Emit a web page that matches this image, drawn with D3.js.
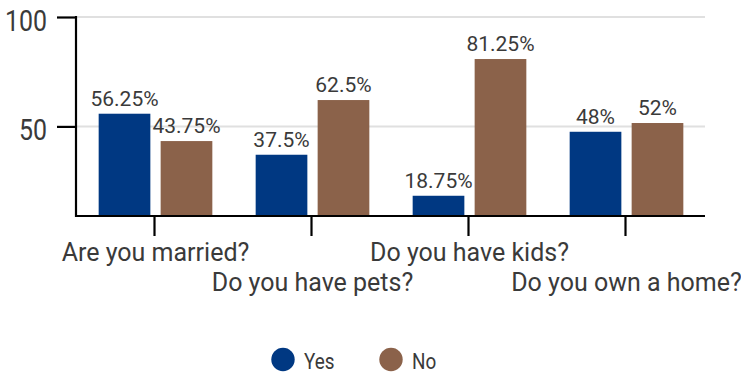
<!DOCTYPE html>
<html>
<head>
<meta charset="utf-8">
<script src="https://cdn.jsdelivr.net/npm/d3@7"></script>
<style>
  html, body { margin: 0; padding: 0; background: #fff; }
  svg { display: block; font-family: Roboto, "Noto Sans", sans-serif; }
</style>
</head>
<body>
<svg id="chart" width="741" height="375"></svg>
<script>
const categories = ["Are you married?", "Do you have pets?", "Do you have kids?", "Do you own a home?"];
const seriesNames = ["Yes", "No"];
const yesValues = [56.25, 37.5, 18.75, 48];
const noValues = [43.75, 62.5, 81.25, 52];
const yTickValues = [50, 100];
const seriesColors = ["#003882", "#8B624A"];

const svg = d3.select("#chart");
const plotLeft = 77, plotRight = 705, plotTop = 18, plotBottom = 216;

const data = categories.map((c, i) => ({ cat: c, values: [yesValues[i], noValues[i]] }));

const x0 = d3.scaleBand().domain(categories).range([plotLeft, plotRight]).paddingInner(0.276).paddingOuter(0.138);
const x1 = d3.scaleBand().domain(seriesNames).range([0, x0.bandwidth()]).paddingInner(0.166).paddingOuter(0);
const y = d3.scaleLinear().domain([9.5, 100]).range([plotBottom, plotTop]);
const color = d3.scaleOrdinal().domain(seriesNames).range(seriesColors);

// gridlines
svg.append("g").selectAll("line").data(yTickValues).join("line")
  .attr("x1", plotLeft).attr("x2", plotRight)
  .attr("y1", d => y(d) - 1).attr("y2", d => y(d) - 1)
  .attr("stroke", "#e0e0e0").attr("stroke-width", 2);

// bars
const groups = svg.append("g").selectAll("g").data(data).join("g")
  .attr("transform", d => `translate(${x0(d.cat)},0)`);
groups.selectAll("rect").data(d => d.values.map((v, j) => ({ key: seriesNames[j], v })))
  .join("rect")
  .attr("x", d => x1(d.key))
  .attr("y", d => y(d.v))
  .attr("width", x1.bandwidth())
  .attr("height", d => plotBottom - y(d.v))
  .attr("fill", d => color(d.key));
groups.selectAll("text").data(d => d.values.map((v, j) => ({ key: seriesNames[j], v })))
  .join("text")
  .attr("x", d => x1(d.key) + x1.bandwidth() / 2)
  .attr("y", d => y(d.v) - 8)
  .attr("text-anchor", "middle")
  .attr("font-size", 21)
  .attr("fill", "#3a3a3a")
  .text(d => d.v + "%");

// y axis
const yAxis = svg.append("g").attr("transform", `translate(${plotLeft - 1},0)`)
  .call(d3.axisLeft(y).tickValues(yTickValues).tickSize(19).tickSizeOuter(0).tickPadding(10));
yAxis.select(".domain").attr("stroke", "#000").attr("stroke-width", 2.2)
  .attr("d", `M0,${y(100) - 2}V${plotBottom + 1}`);
yAxis.selectAll(".tick line").attr("stroke", "#000").attr("stroke-width", 2.2)
  .attr("transform", "translate(0,-1)");
yAxis.selectAll(".tick text").each(function () {
  const t = d3.select(this);
  const xx = +t.attr("x");
  t.attr("x", null).attr("dy", null)
   .attr("transform", `translate(${xx},12.5) scale(0.86,1)`)
   .attr("font-size", 29).attr("font-family", "Roboto").attr("fill", "#3a3a3a");
});

// x axis
const xAxis = svg.append("g").attr("transform", `translate(0,${plotBottom})`)
  .call(d3.axisBottom(x0).tickSize(20).tickSizeOuter(0).tickPadding(0));
xAxis.select(".domain").attr("stroke", "#000").attr("stroke-width", 2.2)
  .attr("d", `M${plotLeft - 2},0H${plotRight}`);
xAxis.selectAll(".tick line").attr("stroke", "#000").attr("stroke-width", 2.2)
  .attr("transform", "translate(-1,0)");
xAxis.selectAll(".tick text")
  .attr("font-size", 25).attr("font-family", "Roboto").attr("fill", "#3a3a3a")
  .attr("dy", null)
  .attr("y", (d, i) => i % 2 === 0 ? 45 : 75);

// legend
const legend = svg.append("g");
const legendX = [283, 391];
seriesNames.forEach((s, i) => {
  legend.append("circle").attr("cx", legendX[i]).attr("cy", 359.5).attr("r", 11.7).attr("fill", color(s));
  legend.append("text")
    .attr("transform", `translate(${legendX[i] + 21},369) scale(0.84,1)`)
    .attr("font-size", 22.5).attr("fill", "#3a3a3a").text(s);
});
</script>
</body>
</html>
